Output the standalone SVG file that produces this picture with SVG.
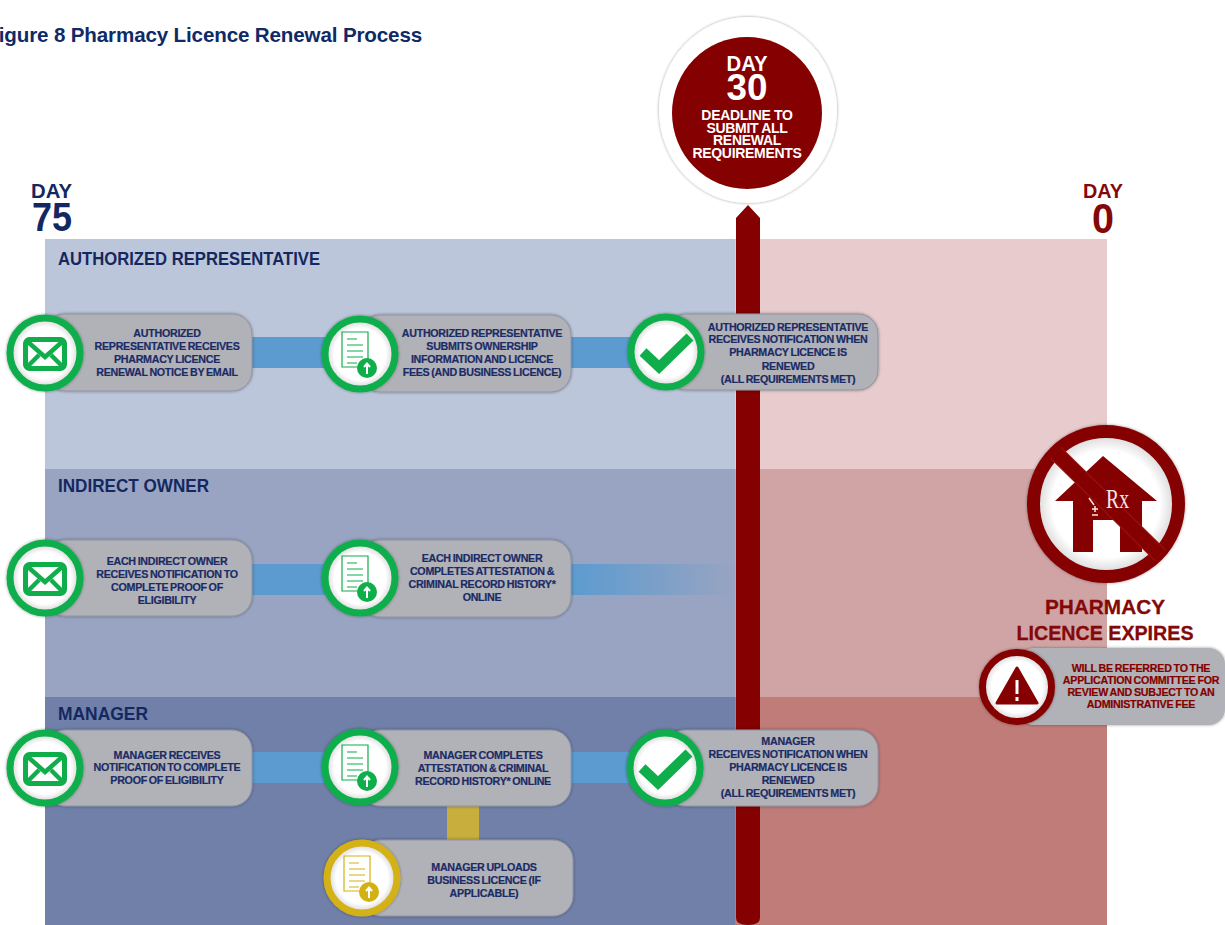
<svg xmlns="http://www.w3.org/2000/svg" width="1225" height="925" viewBox="0 0 1225 925">
<style>
text{font-family:"Liberation Sans",Arial,sans-serif;font-weight:700;text-anchor:middle}
.t{font-size:10.7px;fill:#1b2b66;letter-spacing:-.28px;word-spacing:-.8px;stroke:#1b2b66;stroke-width:.2px}
.h{font-size:18.700px;fill:#14285f;text-anchor:start}
.pill{fill:#b1b2b7;stroke:#8f93a3;stroke-width:1;filter:url(#s)}
.w{fill:url(#wg);stroke-width:7px;filter:url(#s)}
.g{stroke:#0fae4b}.y{stroke:#d4b112}
.cg{fill:#0fae4b}.cy{fill:#d4b112}
.lg{stroke:#0fae4b;fill:none;stroke-width:1.2}.ly{stroke:#d4b112;fill:none;stroke-width:1.2}
.c{fill:#5b9bd0}
.d{font-size:14px;fill:#fff;letter-spacing:-.3px}
.r{fill:#850000;font-size:10.700px;letter-spacing:-.25px;word-spacing:-.8px;stroke:#850000;stroke-width:.2px}
.e{font-size:21px;fill:#850808;stroke:#850808;stroke-width:.3px}
</style>
<defs>
<filter id="s" x="-20%" y="-20%" width="140%" height="140%"><feDropShadow dx="0" dy="0" stdDeviation="1.8" flood-color="#000" flood-opacity=".4"/></filter>
<linearGradient id="f"><stop offset="0" stop-color="#5b9bd0"/><stop offset="1" stop-color="#5b9bd0" stop-opacity="0"/></linearGradient>
<radialGradient id="wg"><stop offset=".74" stop-color="#fff"/><stop offset="1" stop-color="#cfcfcf"/></radialGradient>
<g id="mail"><rect x="-19.500" y="-13.500" width="39" height="29" rx="4" fill="none" stroke="#0fae4b" stroke-width="5"/><path d="M-17-11L0 4 17-11M-17 13L-6 2M17 13L6 2" fill="none" stroke="#0fae4b" stroke-width="4.500"/></g>
<g id="doc"><path class="lg" d="M-18-22H8V13H-18ZM-13-15H-3M-13-9H3M-13-3H3M-13 3H3M-13 9H-3"/><circle cx="7" cy="14" r="10" class="cg"/><path d="M7 20V10M4 13L7 9.500 10 13" fill="none" stroke="#fff" stroke-width="2"/></g>
<g id="docy"><path class="ly" d="M-18-22H8V13H-18ZM-13-15H-3M-13-9H3M-13-3H3M-13 3H3M-13 9H-3"/><circle cx="7" cy="14" r="10" class="cy"/><path d="M7 20V10M4 13L7 9.500 10 13" fill="none" stroke="#fff" stroke-width="2"/></g>
<path id="chk" d="M-23 0L-7 15 24-15" fill="none" stroke="#0fae4b" stroke-width="10"/>
</defs>

<g id="bands">
<rect x="45" y="239" width="690" height="230" fill="#bcc6da"/>
<rect x="45" y="469" width="690" height="228" fill="#98a4c1"/>
<rect x="45" y="697" width="690" height="228" fill="#7080a9"/>
<rect x="735" y="239" width="372" height="230" fill="#e8cccd"/>
<rect x="735" y="469" width="372" height="228" fill="#d0a4a5"/>
<rect x="735" y="697" width="372" height="228" fill="#bf7c79"/>
</g>
<text x="422" y="42" style="font-size:20.600px;text-anchor:end;fill:#0f2a66;letter-spacing:-.15px">Figure 8 Pharmacy Licence Renewal Process</text>
<text x="51.500" y="197.500" textLength="41" lengthAdjust="spacingAndGlyphs" style="font-size:20px;fill:#14285f">DAY</text>
<text x="52" y="231" textLength="40" lengthAdjust="spacingAndGlyphs" style="font-size:41px;fill:#14285f">75</text>
<text x="1103" y="197.500" textLength="40" lengthAdjust="spacingAndGlyphs" style="font-size:20px;fill:#850808">DAY</text>
<text x="1103" y="233" textLength="22" lengthAdjust="spacingAndGlyphs" style="font-size:43px;fill:#850808">0</text>
<text class="h" x="58" y="264.500" textLength="262" lengthAdjust="spacingAndGlyphs">AUTHORIZED REPRESENTATIVE</text>
<text class="h" x="58" y="492" textLength="151" lengthAdjust="spacingAndGlyphs">INDIRECT OWNER</text>
<text class="h" x="58" y="720" textLength="90" lengthAdjust="spacingAndGlyphs">MANAGER</text>

<g id="connectors">
<path d="M736 925V218L748 205 760 218V918Q760 925 748 925 736 925 736 918Z" fill="#850000"/>
<rect class="c" x="250" y="337" width="75" height="31"/>
<rect class="c" x="569" y="337" width="65" height="31"/>
<rect class="c" x="250" y="564" width="75" height="31"/>
<rect x="569" y="564" width="166" height="31" fill="url(#f)"/>
<rect class="c" x="250" y="752" width="75" height="31"/>
<rect class="c" x="569" y="752" width="65" height="31"/>
<rect x="447" y="804" width="32" height="38" fill="#c8ae3c"/>
</g>

<g id="day30">
<ellipse cx="748" cy="110" rx="89" ry="93" fill="#fff" filter="url(#s)"/>
<ellipse cx="747" cy="113" rx="75" ry="76" fill="#850000"/>
<text x="747" y="71" textLength="41" lengthAdjust="spacingAndGlyphs" style="font-size:22px;fill:#fff">DAY</text>
<text x="747" y="100" textLength="41" lengthAdjust="spacingAndGlyphs" style="font-size:36px;fill:#fff">30</text>
<text class="d" x="747" y="120">DEADLINE TO</text>
<text class="d" x="747" y="133">SUBMIT ALL</text>
<text class="d" x="747" y="145">RENEWAL</text>
<text class="d" x="747" y="158">REQUIREMENTS</text>
</g>

<g id="n1">
<rect class="pill" x="45" y="314" width="207" height="77" rx="20"/>
<circle class="w g" cx="45" cy="353" r="35"/>
<use href="#mail" x="45" y="353"/>
<text class="t" x="167" y="337">AUTHORIZED</text><text class="t" x="167" y="350">REPRESENTATIVE RECEIVES</text><text class="t" x="167" y="363">PHARMACY LICENCE</text><text class="t" x="167" y="376">RENEWAL NOTICE BY EMAIL</text>
</g>
<g id="n2">
<rect class="pill" x="360" y="315" width="211" height="77" rx="20"/>
<circle class="w g" cx="360" cy="354" r="35"/>
<use href="#doc" x="360" y="354"/>
<text class="t" x="482" y="337">AUTHORIZED REPRESENTATIVE</text><text class="t" x="482" y="350">SUBMITS OWNERSHIP</text><text class="t" x="482" y="363">INFORMATION AND LICENCE</text><text class="t" x="482" y="376">FEES (AND BUSINESS LICENCE)</text>
</g>
<g id="n3">
<rect class="pill" x="666" y="314" width="212" height="76" rx="20"/>
<circle class="w g" cx="666" cy="352" r="35"/>
<use href="#chk" x="666" y="352"/>
<text class="t" x="788" y="331">AUTHORIZED REPRESENTATIVE</text><text class="t" x="788" y="343">RECEIVES NOTIFICATION WHEN</text><text class="t" x="788" y="356">PHARMACY LICENCE IS</text><text class="t" x="788" y="370">RENEWED</text><text class="t" x="788" y="383">(ALL REQUIREMENTS MET)</text>
</g>
<g id="n4">
<rect class="pill" x="45" y="540" width="207" height="76" rx="20"/>
<circle class="w g" cx="45" cy="578" r="35"/>
<use href="#mail" x="45" y="578"/>
<text class="t" x="167" y="565">EACH INDIRECT OWNER</text><text class="t" x="167" y="578">RECEIVES NOTIFICATION TO</text><text class="t" x="167" y="591">COMPLETE PROOF OF</text><text class="t" x="167" y="604">ELIGIBILITY</text>
</g>
<g id="n5">
<rect class="pill" x="360" y="540" width="211" height="77" rx="20"/>
<circle class="w g" cx="360" cy="578" r="35"/>
<use href="#doc" x="360" y="578"/>
<text class="t" x="482" y="562">EACH INDIRECT OWNER</text><text class="t" x="482" y="575">COMPLETES ATTESTATION &amp;</text><text class="t" x="482" y="588">CRIMINAL RECORD HISTORY*</text><text class="t" x="482" y="601">ONLINE</text>
</g>
<g id="n6">
<rect class="pill" x="45" y="730" width="207" height="76" rx="20"/>
<circle class="w g" cx="45" cy="768" r="35"/>
<use href="#mail" x="45" y="768"/>
<text class="t" x="167" y="759">MANAGER RECEIVES</text><text class="t" x="167" y="771">NOTIFICATION TO COMPLETE</text><text class="t" x="167" y="784">PROOF OF ELIGIBILITY</text>
</g>
<g id="n7">
<rect class="pill" x="360" y="730" width="211" height="76" rx="20"/>
<circle class="w g" cx="360" cy="767" r="35"/>
<use href="#doc" x="360" y="767"/>
<text class="t" x="483" y="759">MANAGER COMPLETES</text><text class="t" x="483" y="772">ATTESTATION &amp; CRIMINAL</text><text class="t" x="483" y="785">RECORD HISTORY* ONLINE</text>
</g>
<g id="n8">
<rect class="pill" x="665" y="730" width="213" height="76" rx="20"/>
<circle class="w g" cx="665" cy="768" r="35"/>
<use href="#chk" x="665" y="768"/>
<text class="t" x="788" y="745">MANAGER</text><text class="t" x="788" y="758">RECEIVES NOTIFICATION WHEN</text><text class="t" x="788" y="771">PHARMACY LICENCE IS</text><text class="t" x="788" y="784">RENEWED</text><text class="t" x="788" y="797">(ALL REQUIREMENTS MET)</text>
</g>
<g id="n9">
<rect class="pill" x="361" y="840" width="212" height="76" rx="20"/>
<circle class="w y" cx="362" cy="878" r="35"/>
<use href="#docy" x="362" y="878"/>
<text class="t" x="484" y="871">MANAGER UPLOADS</text><text class="t" x="484" y="884">BUSINESS LICENCE (IF</text><text class="t" x="484" y="897">APPLICABLE)</text>
</g>

<g id="expires">
<circle cx="1106" cy="504" r="72.500" fill="url(#wg)" stroke="#850000" stroke-width="13" filter="url(#s)"/>
<path d="M1103 456L1157 501H1142V552H1120V520H1093V552H1073V501H1055Z" fill="#850000"/>
<path d="M1056 453L1160 555" stroke="#9a1515" stroke-width="16"/>
<path d="M1056 453L1160 555" stroke="#850000" stroke-width="14"/>
<text x="1117.500" y="508" textLength="23" lengthAdjust="spacingAndGlyphs" style="font-family:'Liberation Serif',serif;font-size:27px;font-weight:400;fill:#f6e6e6">Rx</text>
<path d="M1089 498L1094 505M1092 509H1098M1095 506V512M1092 515H1098" stroke="#f6e6e6" stroke-width="1.500" fill="none"/>
<text class="e" x="1105" y="614" textLength="120" lengthAdjust="spacingAndGlyphs">PHARMACY</text>
<text class="e" x="1105" y="640" textLength="177" lengthAdjust="spacingAndGlyphs">LICENCE EXPIRES</text>
</g>
<g id="referred">
<rect class="pill" x="1018" y="648" width="207" height="77" rx="16" style="stroke:none"/>
<circle class="w" cx="1017" cy="687" r="34.500" style="stroke:#850000"/>
<path d="M1017 668L1037 703H997Z" fill="#850000" stroke="#850000" stroke-width="3" stroke-linejoin="round"/>
<path d="M1017 680V694M1017 697V701" stroke="#fff" stroke-width="3"/>
<text class="r" x="1141" y="672">WILL BE REFERRED TO THE</text><text class="r" x="1141" y="684">APPLICATION COMMITTEE FOR</text><text class="r" x="1141" y="696">REVIEW AND SUBJECT TO AN</text><text class="r" x="1141" y="708">ADMINISTRATIVE FEE</text>
</g>
</svg>
